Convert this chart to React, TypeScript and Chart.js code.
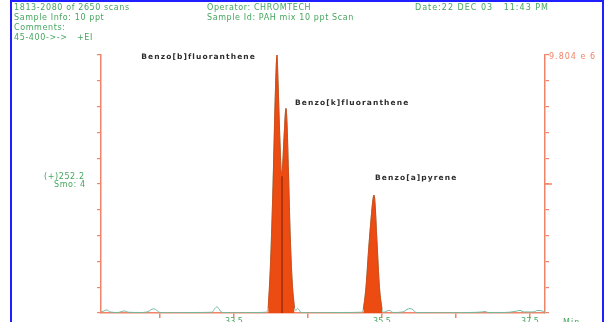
import React, { useEffect, useRef } from "react";
import { Chart, registerables } from "chart.js";

Chart.register(...registerables);

// ---- data (retention time in min, relative abundance in %) ----
const times = [
  31.703, 31.743, 31.784, 31.824, 31.932, 31.986, 32.027, 32.068, 32.23, 32.338,
  32.378, 32.419, 32.459, 32.5, 32.703, 32.973, 33.203, 33.243, 33.27, 33.297,
  33.338, 33.581, 33.851, 33.932, 33.962, 33.995, 34.028, 34.062, 34.081, 34.095,
  34.108, 34.122, 34.142, 34.155, 34.176, 34.203, 34.216, 34.236, 34.26, 34.287,
  34.318, 34.338, 34.358, 34.382, 34.405, 34.662, 35.0, 35.216, 35.248, 35.284,
  35.318, 35.351, 35.378, 35.392, 35.405, 35.432, 35.466, 35.5, 35.527, 35.568,
  35.608, 35.649, 35.784, 35.838, 35.878, 35.919, 35.959, 36.284, 36.689, 36.851,
  36.892, 36.932, 37.162, 37.297, 37.365, 37.419, 37.541, 37.608, 37.662, 37.703,
];
const signal = [
  0.3, 0.8, 1.2, 0.4, 0.2, 0.6, 0.8, 0.3, 0.2, 0.5,
  1.3, 1.6, 1.0, 0.2, 0.1, 0.2, 0.3, 1.8, 2.4, 1.6,
  0.2, 0.1, 0.2, 0.3, 2.0, 20, 50, 88, 100, 90,
  78, 66, 54, 56, 68, 79.3, 74, 55, 30, 12,
  2.0, 1.0, 1.8, 1.2, 0.2, 0.1, 0.2, 0.3, 1.5, 10,
  24, 36, 44, 45.7, 43, 28, 10, 1.5, 0.3, 0.8,
  1.0, 0.2, 0.4, 1.4, 1.7, 1.3, 0.2, 0.1, 0.2, 0.4,
  0.6, 0.2, 0.2, 0.6, 1.0, 0.4, 0.4, 1.0, 0.8, 0.3,
];

const peakNames = ["Benzo[b]fluoranthene", "Benzo[k]fluoranthene", "Benzo[a]pyrene"];
const peakTimes = [34.081, 34.203, 35.392];
const peakHeights = [100, 79.3, 45.7];
const integrationWindows = [
  [33.962, 34.318],
  [35.248, 35.5],
];
const valleyTime = 34.149;
const valleyLevel = 53;

const xMin = 31.703;
const xMax = 37.703;
const xTickValues = [32.5, 33.5, 34.5, 35.5, 36.5, 37.5];
const xMajorTicks = [33.5, 35.5, 37.5];
const yTickStep = 10;

const headerCol1 = ["1813-2080 of 2650 scans", "Sample Info: 10 ppt", "Comments:", "45-400->->   +EI"];
const headerCol2 = ["Operator: CHROMTECH", "Sample Id: PAH mix 10 ppt Scan"];
const headerCol3 = ["Date:22 DEC 03   11:43 PM"];
const baseIonText = ["(+)252.2", "Smo: 4"];
const fullScaleText = "9.804 e 6";
const timeUnitText = "Min";

// ---- styles ----
const AXIS = "#f08468";
const TRACE = "#72b89c";
const PEAK = "#ec4b12";
const GREEN_TXT = "#45a65e";
const DARK_TXT = "#2b2b2b";

const overlayPlugin = {
  id: "overlay",
  afterDraw(chart: any) {
    const { ctx, chartArea, scales } = chart;
    const xs = scales.x;
    const ys = scales.y;
    ctx.save();
    // blue frame
    ctx.strokeStyle = "#1f1fff";
    ctx.lineWidth = 2;
    ctx.strokeRect(11, 1, 592, 400);

    // header
    ctx.fillStyle = GREEN_TXT;
    ctx.font = "8px 'DejaVu Sans'";
    (ctx as any).letterSpacing = "0.6px";
    ctx.textBaseline = "middle";
    ctx.textAlign = "left";
    const rows = [7.5, 17.5, 27.5, 37.5];
    headerCol1.forEach((s, i) => ctx.fillText(s, 14, rows[i]));
    headerCol2.forEach((s, i) => ctx.fillText(s, 207, rows[i]));
    (ctx as any).letterSpacing = "1px";
    headerCol3.forEach((s, i) => ctx.fillText(s, 415, rows[i]));
    (ctx as any).letterSpacing = "0.6px";

    // base ion annotation
    const midY = ys.getPixelForValue(50);
    ctx.fillText(baseIonText[0], 44, midY - 7);
    ctx.fillText(baseIonText[1], 54, midY + 1);

    // time unit
    (ctx as any).letterSpacing = "1px";
    ctx.fillText(timeUnitText, 563, chartArea.bottom + 10);

    // full scale label
    ctx.fillStyle = AXIS;
    ctx.fillText(fullScaleText, chartArea.right + 4, ys.getPixelForValue(100) + 2);

    // long mid tick on right axis
    ctx.strokeStyle = AXIS;
    ctx.lineWidth = 1.5;
    ctx.beginPath();
    ctx.moveTo(chartArea.right, midY);
    ctx.lineTo(chartArea.right + 7, midY);
    ctx.stroke();

    // peak labels
    ctx.fillStyle = DARK_TXT;
    ctx.font = "bold 7.5px 'DejaVu Sans'";
    (ctx as any).letterSpacing = "1.1px";
    ctx.textAlign = "right";
    ctx.fillText(peakNames[0], xs.getPixelForValue(peakTimes[0]) - 21, ys.getPixelForValue(peakHeights[0]) + 2);
    ctx.textAlign = "left";
    ctx.fillText(peakNames[1], xs.getPixelForValue(peakTimes[1]) + 9, ys.getPixelForValue(peakHeights[1]) - 5);
    ctx.fillText(peakNames[2], xs.getPixelForValue(peakTimes[2]) + 1, ys.getPixelForValue(peakHeights[2]) - 17);
    ctx.restore();
  },
};

export default function App() {
  const ref = useRef<HTMLCanvasElement | null>(null);

  useEffect(() => {
    document.body.style.margin = "0";
    document.body.style.overflow = "hidden";
    const canvas = ref.current;
    if (!canvas) return;

    const trace = times.map((t, i) => ({ x: t, y: signal[i] }));
    const peakSets = integrationWindows.map(([a, b]) => ({
      type: "line" as const,
      data: trace.filter((p) => p.x >= a && p.x <= b),
      borderColor: "#d8400c",
      borderWidth: 0.8,
      backgroundColor: PEAK,
      fill: "origin",
      pointRadius: 0,
      cubicInterpolationMode: "monotone" as const,
      order: 1,
    }));

    const chart = new Chart(canvas, {
      type: "line",
      data: {
        datasets: [
          {
            data: [
              { x: valleyTime, y: 0 },
              { x: valleyTime, y: valleyLevel },
            ],
            borderColor: "#7a1c08",
            borderWidth: 1,
            pointRadius: 0,
            fill: false,
            order: 0,
          },
          ...peakSets,
          {
            data: trace,
            borderColor: TRACE,
            borderWidth: 1,
            pointRadius: 0,
            fill: false,
            cubicInterpolationMode: "monotone",
            order: 2,
          },
        ] as any,
      },
      options: {
        responsive: false,
        animation: false,
        devicePixelRatio: 1,
        layout: { padding: { left: 97, right: 62, top: 55, bottom: 14 } },
        plugins: { legend: { display: false }, tooltip: { enabled: false } },
        scales: {
          x: {
            type: "linear",
            min: xMin,
            max: xMax,
            afterBuildTicks: (s: any) => {
              s.ticks = xTickValues.map((v) => ({ value: v }));
            },
            ticks: {
              autoSkip: false,
              maxRotation: 0,
              padding: 0,
              color: GREEN_TXT,
              font: { family: "'DejaVu Sans'", size: 8, lineHeight: 1 },
              callback: (v: any) => (xMajorTicks.includes(Number(v)) ? Number(v).toFixed(1) : ""),
            },
            grid: { drawOnChartArea: false, color: AXIS, tickLength: 5, lineWidth: 1.5 },
            border: { color: AXIS, width: 1.5 },
          },
          y: {
            position: "left",
            min: 0,
            max: 100,
            ticks: { display: false, stepSize: yTickStep },
            grid: { drawOnChartArea: false, color: AXIS, tickLength: 4, lineWidth: 1.2 },
            border: { color: AXIS, width: 1.5 },
          },
          y2: {
            position: "right",
            min: 0,
            max: 100,
            ticks: { display: false, stepSize: yTickStep },
            grid: { drawOnChartArea: false, color: AXIS, tickLength: 4, lineWidth: 1.2 },
            border: { color: AXIS, width: 1.5 },
          },
        },
      } as any,
      plugins: [overlayPlugin],
    });
    return () => chart.destroy();
  }, []);

  return (
    <div style={{ width: 611, height: 340, background: "#fff" }}>
      <canvas ref={ref} width={611} height={340} style={{ display: "block" }} />
    </div>
  );
}
